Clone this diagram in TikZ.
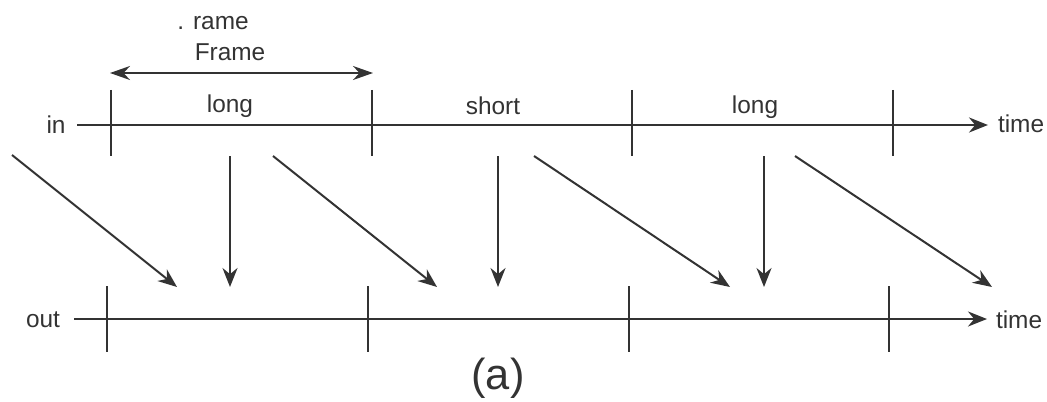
\documentclass[tikz,border=0pt]{standalone}
\usepackage{fontspec}
\setmainfont{Liberation Sans}
\usetikzlibrary{arrows.meta, positioning}
\definecolor{inkgray}{RGB}{51,51,51}

\begin{document}
\begin{tikzpicture}[x=0.5pt, y=-0.5pt, line width=1pt, draw=inkgray,
    lbl/.style={inner sep=0pt, text=inkgray, font=\fontsize{12.2}{14}\selectfont},
    tick/.style={draw=inkgray},
    flow/.style={draw=inkgray, -{Stealth[length=9.5pt, width=7.5pt]}}]
  \useasboundingbox (0,0) rectangle (1047,401);

  % axes
  \node[lbl] (in)    at (56,125)   {in};
  \node[lbl] (out)   at (43,320)   {out};
  \node[lbl, anchor=west] (tin)  at (997,124) {time};
  \node[lbl, anchor=west] (tout) at (995,320) {time};
  \coordinate (ia) at (77,125);
  \coordinate (oa) at (74,319);
  \draw[flow, shorten >=4.5pt] (ia) -- (ia -| tin.west);
  \draw[flow, shorten >=4pt] (oa) -- (oa -| tout.west);

  % frame boundaries
  \foreach \x [count=\i] in {111,372,632,893} {
    \coordinate (it\i) at (\x,90);
    \coordinate (ib\i) at (\x,156);
    \draw[tick] (it\i) -- (ib\i);
  }
  \foreach \x [count=\i] in {107,368,629,889} {
    \coordinate (ot\i) at (\x,286);
    \coordinate (ob\i) at (\x,352);
    \draw[tick] (ot\i) -- (ob\i);
  }

  % frame labels
  \node[lbl] (l1) at (230,106) {long};
  \node[lbl] (l2) at (493,106) {short};
  \node[lbl] (l3) at (755,107) {long};

  \coordinate (fa) at (110,73);
  \coordinate (fb) at (373,73);
  \draw[draw=inkgray, {Stealth[length=10pt, width=7pt]}-{Stealth[length=10pt, width=7pt]}] (fa) -- (fb);
  \node[lbl] (frame)  at (230,52) {Frame};
  \node[lbl] (rame)   at (213,23) {. rame};

  % mapping in -> out
  \foreach \sx/\sy/\ex [count=\i] in {12/155/177, 230/156/230, 273/156/437,
                                      498/156/498, 534/156/730, 764/156/764,
                                      795/156/992} {
    \coordinate (s\i) at (\sx,\sy);
    \coordinate (e\i) at (\ex,287);
    \draw[flow] (s\i) -- (e\i);
  }

  \node[inner sep=0pt, text=inkgray, font=\fontsize{21.7}{24}\selectfont] (cap) at (498,378) {(a)};
\end{tikzpicture}
\end{document}
